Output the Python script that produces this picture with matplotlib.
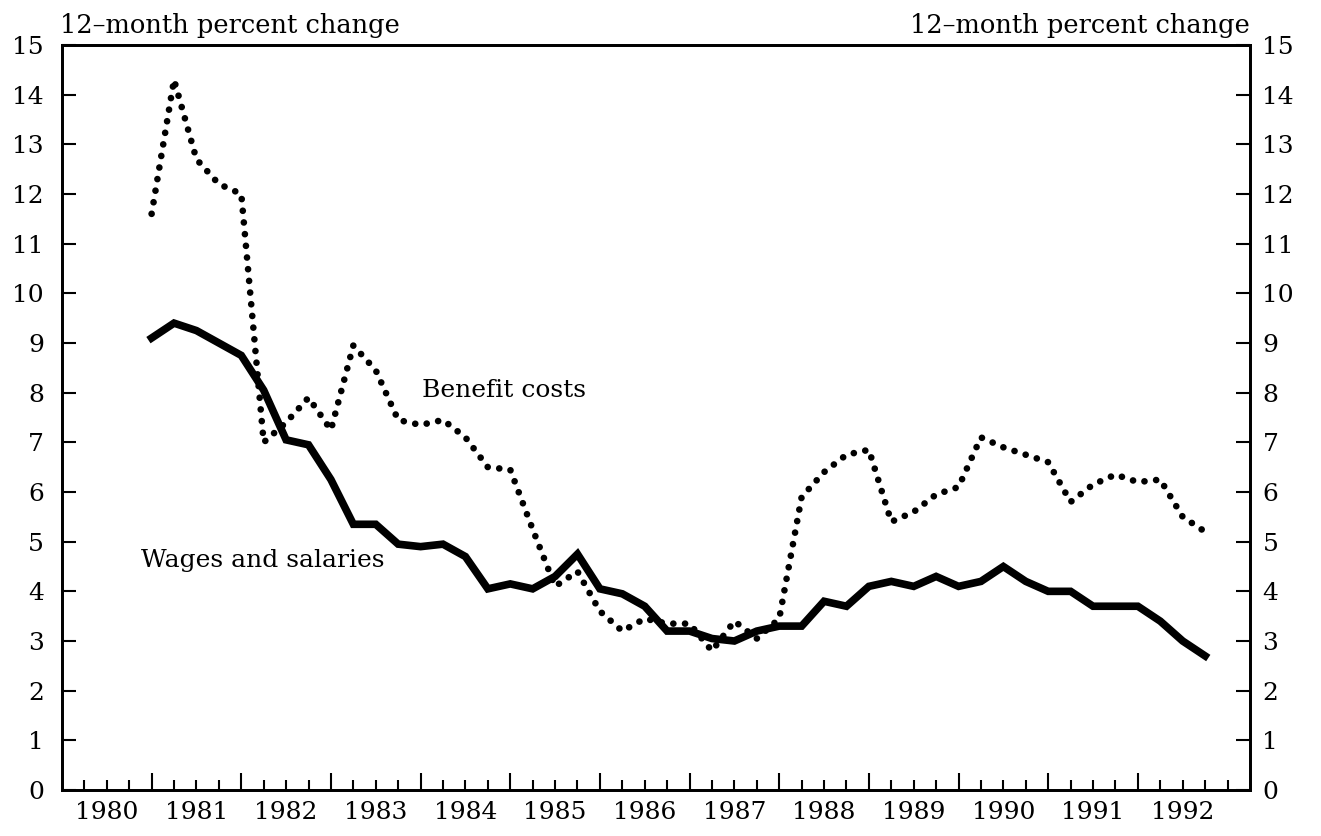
import numpy as np
import matplotlib
matplotlib.use("Agg")
import matplotlib.pyplot as plt
from matplotlib.ticker import FixedLocator

# 12-month percent change, quarterly, Dec 1980 .. Sep 1992
wages = [9.1, 9.4, 9.25, 9.0, 8.75, 8.05, 7.05, 6.95,
         6.25, 5.35, 5.35, 4.95, 4.9, 4.95, 4.7, 4.05,
         4.15, 4.05, 4.3, 4.75, 4.05, 3.95, 3.7, 3.2,
         3.2, 3.05, 3.0, 3.2, 3.3, 3.3, 3.8, 3.7,
         4.1, 4.2, 4.1, 4.3, 4.1, 4.2, 4.5, 4.2,
         4.0, 4.0, 3.7, 3.7, 3.7, 3.4, 3.0, 2.7]
benefits = [11.6, 14.3, 12.7, 12.2, 12.0, 7.0, 7.4, 7.9,
            7.25, 8.95, 8.45, 7.45, 7.35, 7.45, 7.1, 6.5,
            6.45, 5.25, 4.1, 4.4, 3.6, 3.2, 3.45, 3.35,
            3.35, 2.8, 3.4, 3.05, 3.45, 5.9, 6.4, 6.75,
            6.85, 5.4, 5.6, 5.95, 6.1, 7.1, 6.9, 6.75,
            6.6, 5.8, 6.15, 6.35, 6.2, 6.25, 5.5, 5.2]
years = list(range(1980, 1993))
first_point = 1981.0  # Dec 1980 sits on the 1980/1981 boundary

x = first_point + 0.25 * np.arange(len(wages))

plt.rcParams["font.family"] = ["DejaVu Serif"]
fig = plt.figure(figsize=(13.21, 8.36), dpi=100)
ax = fig.add_axes([0.0469, 0.0550, 0.8993, 0.8912])

ax.plot(x, wages, color="black", lw=5.5, solid_joinstyle="miter")
ax.plot(x, benefits, color="black", lw=4.8, linestyle=(0, (0.01, 1.75)),
        dash_capstyle="round")

ax.set_xlim(1980, 1993.25)
ax.set_ylim(0, 15)

# year boundaries long, quarters short
major = [y + 1 for y in years[:-1]]
minor = [y + q / 4 for y in years for q in range(1, 5) if (y + q / 4) not in major]
ax.xaxis.set_major_locator(FixedLocator(major))
ax.xaxis.set_minor_locator(FixedLocator(minor))
ax.tick_params(axis="x", which="major", direction="in", length=12, width=1.5,
               labelbottom=False)
ax.tick_params(axis="x", which="minor", direction="in", length=7, width=1.5)

sec = ax.secondary_xaxis("bottom")
sec.set_xticks([y + 0.5 for y in years], [str(y) for y in years])
sec.tick_params(length=0, labelsize=18, pad=8)
sec.spines["bottom"].set_visible(False)

ax.set_yticks(range(0, 16))
ax.tick_params(axis="y", direction="in", length=10, width=1.5,
               labelsize=18, pad=13)

ax2 = ax.twinx()
ax2.set_ylim(0, 15)
ax2.set_yticks(range(0, 16))
ax2.tick_params(axis="y", direction="in", length=10, width=1.5,
                labelsize=18, pad=9)

for a in (ax, ax2):
    for side in ["left", "right", "top", "bottom"]:
        a.spines[side].set_linewidth(2)

ax.text(1984.93, 8.05, "Benefit costs", fontsize=18, ha="center", va="center")
ax.text(1982.24, 4.63, "Wages and salaries", fontsize=18, ha="center", va="center")

fig.text(0.0454, 1 - 26 / 836, "12\u2013month percent change", fontsize=18.5,
         ha="left", va="center")
fig.text(0.9463, 1 - 26 / 836, "12\u2013month percent change", fontsize=18.5,
         ha="right", va="center")

fig.savefig("out.png", dpi=100)
